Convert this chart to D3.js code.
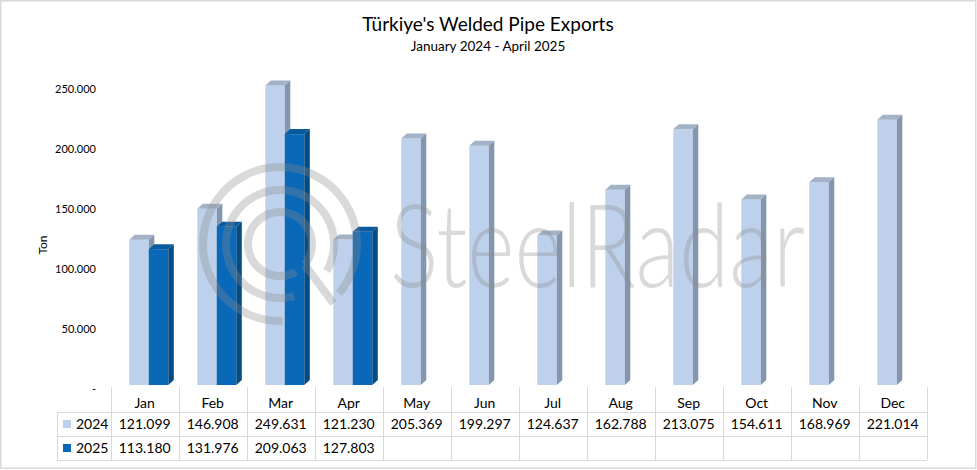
<!DOCTYPE html>
<html><head><meta charset="utf-8">
<script src="https://cdn.jsdelivr.net/npm/d3@7"></script>
<style>html,body{margin:0;padding:0;background:#fff;}svg{display:block;font-family:Lato,"Noto Sans",sans-serif;}</style>
</head><body>
<svg id="chart" width="977" height="470"></svg>
<script>
const months = ["Jan","Feb","Mar","Apr","May","Jun","Jul","Aug","Sep","Oct","Nov","Dec"];
const series2024 = [121099,146908,249631,121230,205369,199297,124637,162788,213075,154611,168969,221014];
const series2025 = [113180,131976,209063,127803,null,null,null,null,null,null,null,null];
const seriesNames = ["2024","2025"];
const yTicks = [0,50000,100000,150000,200000,250000];
const titleText = "Türkiye's Welded Pipe Exports";
const subtitleText = "January 2024 - April 2025";
const yAxisTitle = "Ton";

const svg = d3.select("#chart");
const W = 977, H = 470;
const loc = d3.formatLocale({decimal:",", thousands:".", grouping:[3], currency:["",""]});
const fmt = loc.format(",");

const colors = {
  "2024": {front:"#BDD1EC", side:"#8496AE", top:"#A3B2C6"},
  "2025": {front:"#0A68B8", side:"#044C84", top:"#0A5A9E"}
};

// frame
svg.append("rect").attr("x",0.75).attr("y",0.75).attr("width",W-2).attr("height",H-2.5)
  .attr("fill","#fff").attr("stroke","#D9D9D9").attr("stroke-width",1.5);

// title
svg.append("text").attr("x",488).attr("y",31).attr("text-anchor","middle")
  .attr("font-size",19).attr("fill","#000").text(titleText);
svg.append("text").attr("x",488).attr("y",51).attr("text-anchor","middle")
  .attr("font-size",13.5).attr("fill","#000").text(subtitleText);

const x = d3.scaleBand().domain(months).range([110.7, 926.7]).paddingInner(0).paddingOuter(0);
const y = d3.scaleLinear().domain([0,250000]).range([385,85]);

// y axis labels
const yAxis = d3.axisLeft(y).tickValues(yTicks).tickSize(0).tickPadding(0)
  .tickFormat(d => d === 0 ? "-" : fmt(d));
const yg = svg.append("g").attr("transform","translate(96,4)").call(yAxis);
yg.select(".domain").remove();
yg.selectAll("text").attr("font-size",11).attr("fill","#000").attr("font-family","Lato,sans-serif");

svg.append("text").attr("transform","translate(47,245) rotate(-90)").attr("text-anchor","middle")
  .attr("font-size",12).attr("fill","#000").text(yAxisTitle);

// bars
const barOffset = 18.6, barW = 19.5, dx = 5.5, dy = 5;
const barsG = svg.append("g");
function drawBar(x0, v, c) {
  const y0 = y(0), y1 = y(v);
  const g = barsG.append("g");
  g.append("rect").attr("x",x0).attr("y",y1).attr("width",barW).attr("height",y0-y1).attr("fill",c.front);
  g.append("path").attr("d",`M${x0},${y1}L${x0+dx},${y1-dy}L${x0+barW+dx},${y1-dy}L${x0+barW},${y1}Z`).attr("fill",c.top);
  g.append("path").attr("d",`M${x0+barW},${y1}L${x0+barW+dx},${y1-dy}L${x0+barW+dx},${y0-dy}L${x0+barW},${y0}Z`).attr("fill",c.side);
}
months.forEach((m,i) => {
  const bx = x(m) + barOffset;
  if (series2024[i] != null) drawBar(bx, series2024[i], colors["2024"]);
  if (series2025[i] != null) drawBar(bx + barW, series2025[i], colors["2025"]);
});

// watermark
const wm = svg.append("g").attr("opacity",0.32).attr("fill","none").attr("stroke","#8c8c8c").attr("stroke-width",8);
const cx = 280, cy = 244;
const arc = d3.arc();
function ring(r, a0, a1) {
  wm.append("path").attr("transform",`translate(${cx},${cy})`)
    .attr("d", arc({innerRadius:r-4, outerRadius:r+4, startAngle:a0*Math.PI/180, endAngle:a1*Math.PI/180}))
    .attr("fill","#8c8c8c").attr("stroke","none");
}
ring(77, 178, 490);
ring(54, 165, 480);
ring(32, 150, 490);
function polar(r,a){const t=a*Math.PI/180;return [cx+r*Math.sin(t), cy-r*Math.cos(t)];}
const p1 = polar(32,130), p2 = polar(80,138);
wm.append("path").attr("d",`M${p1[0]},${p1[1]}L${p2[0]},${p2[1]}`).attr("stroke-linecap","butt");
svg.append("text").attr("x",390).attr("y",287).attr("font-size",117).attr("font-weight",300)
  .attr("fill","#8c8c8c").attr("opacity",0.32).attr("textLength",415).attr("lengthAdjust","spacingAndGlyphs")
  .text("SteelRadar");

// data table
const tg = svg.append("g");
const gridColor = "#D9D9D9";
const tTop = 387, r1 = 412, r2 = 436, r3 = 460, legX = 57;
const [xl, xr] = x.range();
[r1, r2, r3].forEach(yy => tg.append("line").attr("x1",legX).attr("x2",xr).attr("y1",yy+0.5).attr("y2",yy+0.5).attr("stroke",gridColor));
months.forEach(m => tg.append("line").attr("x1",Math.round(x(m))+0.5).attr("x2",Math.round(x(m))+0.5).attr("y1",tTop).attr("y2",r3).attr("stroke",gridColor));
tg.append("line").attr("x1",Math.round(xr)+0.5).attr("x2",Math.round(xr)+0.5).attr("y1",tTop).attr("y2",r3).attr("stroke",gridColor);
tg.append("line").attr("x1",legX+0.5).attr("x2",legX+0.5).attr("y1",r1).attr("y2",r3).attr("stroke",gridColor);

months.forEach((m,i) => {
  const mx = x(m) + x.bandwidth()/2;
  tg.append("text").attr("x",mx).attr("y",408).attr("text-anchor","middle").attr("font-size",14).text(m);
  if (series2024[i] != null) tg.append("text").attr("x",mx).attr("y",429).attr("text-anchor","middle").attr("font-size",14).text(fmt(series2024[i]));
  if (series2025[i] != null) tg.append("text").attr("x",mx).attr("y",453).attr("text-anchor","middle").attr("font-size",14).text(fmt(series2025[i]));
});
seriesNames.forEach((s,j) => {
  const ry = j === 0 ? r1 : r2;
  tg.append("rect").attr("x",63).attr("y",ry+8).attr("width",8).attr("height",8).attr("fill",colors[s].front);
  tg.append("text").attr("x",76).attr("y",ry+17).attr("font-size",14).text(s);
});
</script>
</body></html>
